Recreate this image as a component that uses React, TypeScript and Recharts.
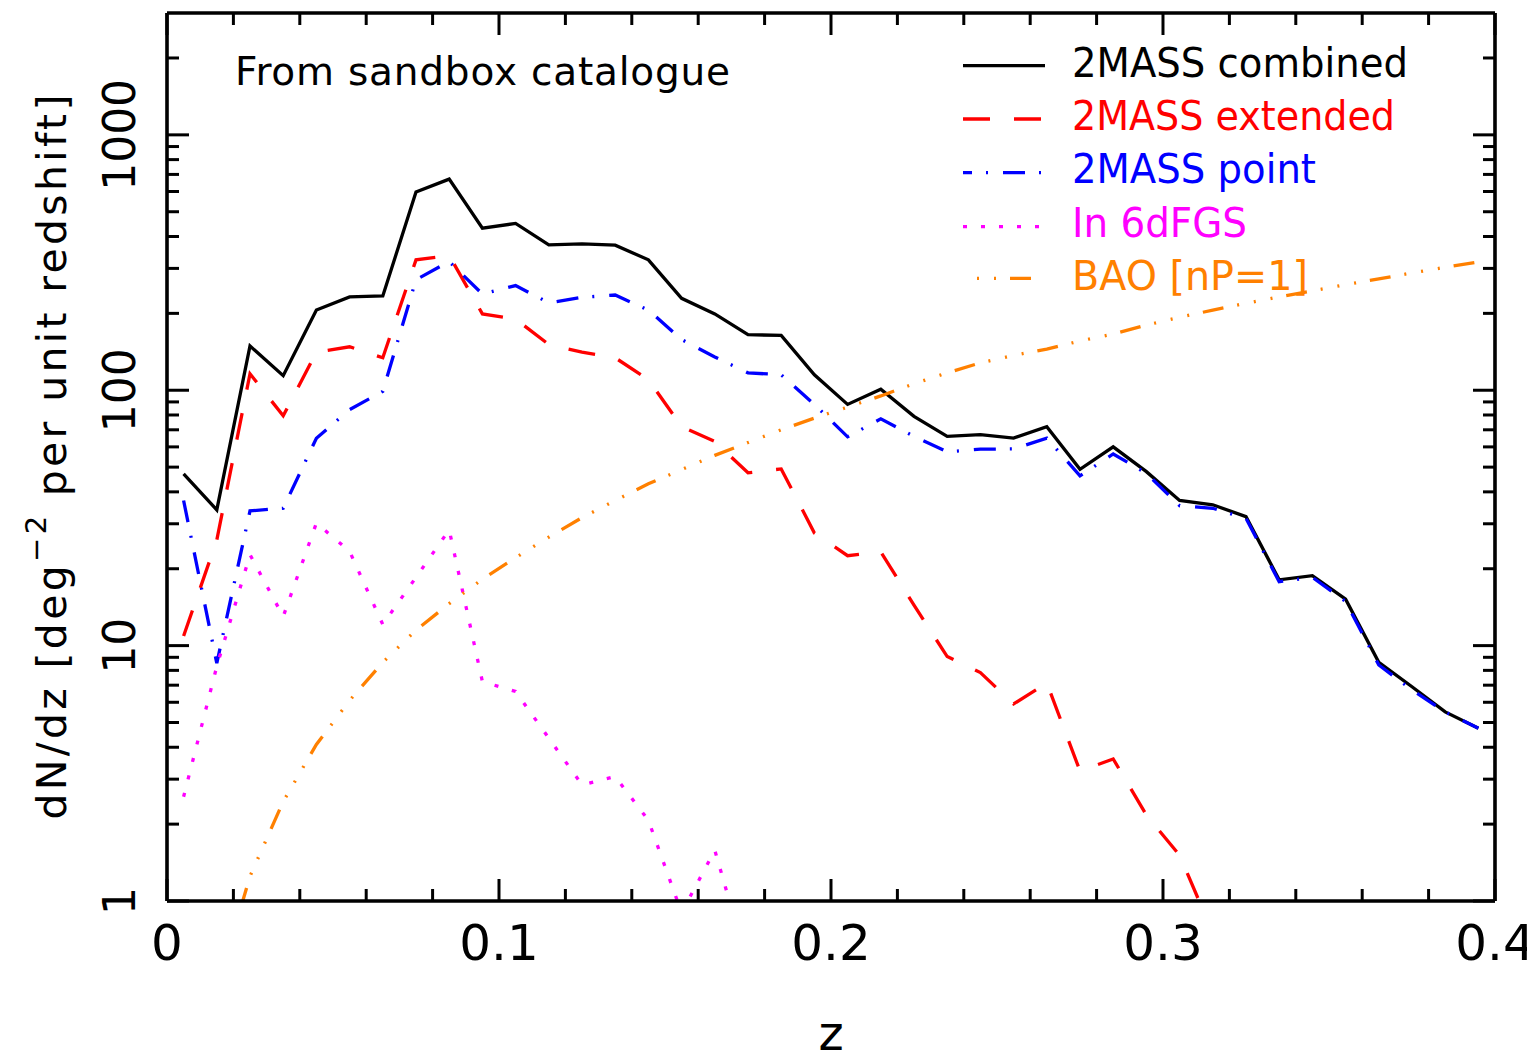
import React from 'react'
import { LineChart, Line, XAxis, YAxis, Legend, Label, ReferenceLine } from 'recharts'

// redshift bin centres
const zBins = [
  0.005, 0.015, 0.025, 0.035, 0.045, 0.055, 0.065, 0.075, 0.085, 0.095,
  0.105, 0.115, 0.125, 0.135, 0.145, 0.155, 0.165, 0.175, 0.185, 0.195,
  0.205, 0.215, 0.225, 0.235, 0.245, 0.255, 0.265, 0.275, 0.285, 0.295,
  0.305, 0.315, 0.325, 0.335, 0.345, 0.355, 0.365, 0.375, 0.385, 0.395,
]

const combined = [
  47, 34, 149, 114, 206, 232, 234, 597, 671, 431,
  450, 371, 374, 370, 324, 229, 199, 165, 164, 115,
  88, 101, 79, 66, 67, 65, 72, 49, 60, 48,
  37, 35.6, 32, 18.1, 18.8, 15.2, 8.6, 6.9, 5.5, 4.75,
]

const extended = [
  10.9, 25.9, 116, 79.4, 141, 148, 134, 324, 337, 199,
  190, 151, 141, 134, 110, 72, 63, 47.5, 49.2, 27.6,
  22.5, 23.3, 14.4, 9.06, 7.84, 5.91, 7.14, 3.23, 3.6, 2.17,
  1.51, 0.75, null, null, null, null, null, null, null, null,
]

const point = [
  37, 8.53, 33.7, 34.5, 64.9, 84, 99, 271, 319, 238,
  257, 220, 231, 236, 206, 158, 135, 117, 115, 88,
  65.7, 77.3, 66, 57.4, 58.8, 58.9, 64.9, 46.2, 56.3, 47.3,
  35.3, 34.5, 31.5, 17.8, 18.5, 14.9, 8.4, 6.7, 5.5, 4.75,
]

const in6df = [
  2.56, 8.3, 22.7, 13.0, 30.2, 23.4, 12.1, 18.5, 28.4, 7.23,
  6.61, 4.34, 2.85, 3.07, 2.07, 0.9, 1.58, 0.56, null, null,
  null, null, null, null, null, null, null, null, null, null,
  null, null, null, null, null, null, null, null, null, null,
]

const bao = [
  0.1, 0.45, 1.25, 2.45, 4.1, 6.1, 8.6, 11.5, 14.6, 18.2,
  22.1, 26.6, 31.7, 37.0, 43, 48.9, 55.6, 62.4, 70, 77.8,
  85.9, 95, 106, 117, 128, 137, 145, 156, 166, 180,
  193, 206, 219, 232, 245, 259, 273, 288, 303, 318,
]

const xMajor = [0, 0.1, 0.2, 0.3, 0.4]
const xMinor = [0.02, 0.04, 0.06, 0.08, 0.12, 0.14, 0.16, 0.18, 0.22, 0.24, 0.26, 0.28, 0.32, 0.34, 0.36, 0.38]
const yMajor = [1, 10, 100, 1000]
const yMinor = [2, 3, 4, 5, 6, 7, 8, 9, 20, 30, 40, 50, 60, 70, 80, 90, 200, 300, 400, 500, 600, 700, 800, 900, 2000]

const series = [
  { key: 'combined', name: '2MASS combined', color: '#000000', dash: undefined, legendOffset: 0, textLen: 336 },
  { key: 'extended', name: '2MASS extended', color: '#ff0000', dash: '27 24', legendOffset: 0, textLen: 323 },
  { key: 'point', name: '2MASS point', color: '#0000ff', dash: '22 14 2 15', legendOffset: 13, textLen: 244 },
  { key: 'in6df', name: 'In 6dFGS', color: '#ff00ff', dash: '4 14', legendOffset: 0, textLen: 175 },
  { key: 'bao', name: 'BAO [nP=1]', color: '#ff8000', dash: '21 14 2 15 2 15 2 14', legendOffset: 38, textLen: 236 },
]

const rows = zBins.map((z, i) => ({
  z,
  combined: combined[i],
  extended: extended[i],
  point: point[i],
  in6df: in6df[i],
  bao: bao[i],
}))

const FONT = "'DejaVu Sans', sans-serif"
const W = 1527
const H = 1052
const MARGIN = { top: 5, right: 40, bottom: 159, left: 159 }
const X_DOMAIN = [0, 0.4]
const Y_DOMAIN = [1, 3000]
const AX = 0.01 // axes take no room; the margins place the frame
const LINE_W = 3.3
const axisLine = { stroke: '#000', strokeWidth: 3.6 }

// inward tick marks in data units (major 22px, minor 12px)
const plotW = W - MARGIN.left - MARGIN.right
const plotH = H - MARGIN.top - MARGIN.bottom
const pxPerX = plotW / (X_DOMAIN[1] - X_DOMAIN[0])
const pxPerDecade = plotH / Math.log10(Y_DOMAIN[1] / Y_DOMAIN[0])
const xLen = (px: number) => px / pxPerX
const yFac = (px: number) => Math.pow(10, px / pxPerDecade)

type Seg = [{ x: number; y: number }, { x: number; y: number }]
const tickSegs: Seg[] = []
const addX = (v: number, px: number) => {
  tickSegs.push([{ x: v, y: Y_DOMAIN[0] }, { x: v, y: Y_DOMAIN[0] * yFac(px) }])
  tickSegs.push([{ x: v, y: Y_DOMAIN[1] }, { x: v, y: Y_DOMAIN[1] / yFac(px) }])
}
const addY = (v: number, px: number) => {
  tickSegs.push([{ x: X_DOMAIN[0], y: v }, { x: X_DOMAIN[0] + xLen(px), y: v }])
  tickSegs.push([{ x: X_DOMAIN[1], y: v }, { x: X_DOMAIN[1] - xLen(px), y: v }])
}
xMajor.forEach((v) => addX(v, 22))
xMinor.forEach((v) => addX(v, 12))
yMajor.forEach((v) => addY(v, 22))
yMinor.forEach((v) => addY(v, 12))

const XTick = (props: any) => (
  <text x={props.x} y={props.y} textAnchor="middle" fontFamily={FONT} fontSize={50} fill="#000">
    {String(props.payload.value)}
  </text>
)

const YTick = (props: any) => (
  <text
    x={props.x}
    y={props.y}
    transform={`rotate(-90 ${props.x} ${props.y})`}
    textAnchor="middle"
    fontFamily={FONT}
    fontSize={44}
    fill="#000"
  >
    {String(props.payload.value)}
  </text>
)

const legendRows = [
  { lineY: 25.7, baseY: 37 },
  { lineY: 79, baseY: 90 },
  { lineY: 132.7, baseY: 143.3 },
  { lineY: 186.7, baseY: 196.7 },
  { lineY: 238.3, baseY: 250 },
]

const renderLegend = () => (
  <svg width={500} height={270} style={{ display: 'block', overflow: 'visible' }}>
    {series.map((s, i) => (
      <g key={s.key}>
        <line
          x1={13}
          x2={95}
          y1={legendRows[i].lineY}
          y2={legendRows[i].lineY}
          stroke={s.color}
          strokeWidth={LINE_W}
          strokeDasharray={s.dash}
          strokeDashoffset={s.legendOffset}
        />
        <text
          x={122}
          y={legendRows[i].baseY}
          fill={s.color}
          fontFamily={FONT}
          fontSize={40}
          textLength={s.textLen}
          lengthAdjust="spacingAndGlyphs"
        >
          {s.name}
        </text>
      </g>
    ))}
  </svg>
)

export default function App() {
  return (
    <div>
      <style>{'html,body{overflow:hidden}'}</style>
      <LineChart width={W} height={H} data={rows} margin={MARGIN}>
        <XAxis
          xAxisId="x"
          dataKey="z"
          type="number"
          domain={X_DOMAIN}
          allowDataOverflow
          ticks={xMajor}
          interval={0}
          height={AX}
          mirror
          tickSize={22}
          tickMargin={-81}
          tickLine={false}
          tick={<XTick />}
          axisLine={axisLine}
        >
          <Label
            content={(p: any) => (
              <text
                x={p.viewBox.x + p.viewBox.width / 2}
                y={p.viewBox.y + 149}
                textAnchor="middle"
                fontFamily={FONT}
                fontSize={48}
                fill="#000"
              >
                z
              </text>
            )}
          />
        </XAxis>
        <XAxis
          xAxisId="xTop"
          orientation="top"
          type="number"
          domain={X_DOMAIN}
          allowDataOverflow
          ticks={xMajor}
          height={AX}
          tick={false}
          tickLine={false}
          axisLine={axisLine}
        >
          <Label
            content={(p: any) => (
              <text
                x={p.viewBox.x + 68}
                y={p.viewBox.y + 72}
                fontFamily={FONT}
                fontSize={39}
                fill="#000"
                textLength={495}
                lengthAdjust="spacing"
              >
                From sandbox catalogue
              </text>
            )}
          />
        </XAxis>
        <YAxis
          yAxisId="y"
          scale="log"
          type="number"
          domain={Y_DOMAIN}
          allowDataOverflow
          ticks={yMajor}
          interval={0}
          width={AX}
          mirror
          tickSize={22}
          tickMargin={-54}
          tickLine={false}
          tick={<YTick />}
          axisLine={axisLine}
        >
          <Label
            content={(p: any) => {
              const cx = p.viewBox.x - 101
              const cy = p.viewBox.y + p.viewBox.height / 2
              return (
                <text
                  x={cx}
                  y={cy}
                  transform={`rotate(-90 ${cx} ${cy})`}
                  textAnchor="middle"
                  fontFamily={FONT}
                  fontSize={41}
                  fill="#000"
                  textLength={725}
                  lengthAdjust="spacing"
                >
                  dN/dz [deg
                  <tspan dy={-20} fontSize={29}>{'\u22122'}</tspan>
                  <tspan dy={20} fontSize={41}>{' per unit redshift]'}</tspan>
                </text>
              )
            }}
          />
        </YAxis>
        <YAxis
          yAxisId="yRight"
          orientation="right"
          scale="log"
          type="number"
          domain={Y_DOMAIN}
          allowDataOverflow
          ticks={yMajor}
          width={AX}
          tick={false}
          tickLine={false}
          axisLine={axisLine}
        />
        {tickSegs.map((seg, i) => (
          <ReferenceLine
            key={`tick-${i}`}
            xAxisId="x"
            yAxisId="y"
            segment={seg}
            stroke="#000"
            strokeWidth={3}
            ifOverflow="visible"
          />
        ))}
        {series.map((s) => (
          <Line
            key={s.key}
            xAxisId="x"
            yAxisId="y"
            type="linear"
            dataKey={s.key}
            name={s.name}
            stroke={s.color}
            strokeWidth={LINE_W}
            strokeDasharray={s.dash}
            dot={false}
            activeDot={false}
            isAnimationActive={false}
          />
        ))}
        <Legend
          layout="vertical"
          align="center"
          verticalAlign="middle"
          content={renderLegend}
          wrapperStyle={{ left: 942, top: 32, width: 500, height: 270 }}
        />
      </LineChart>
    </div>
  )
}
